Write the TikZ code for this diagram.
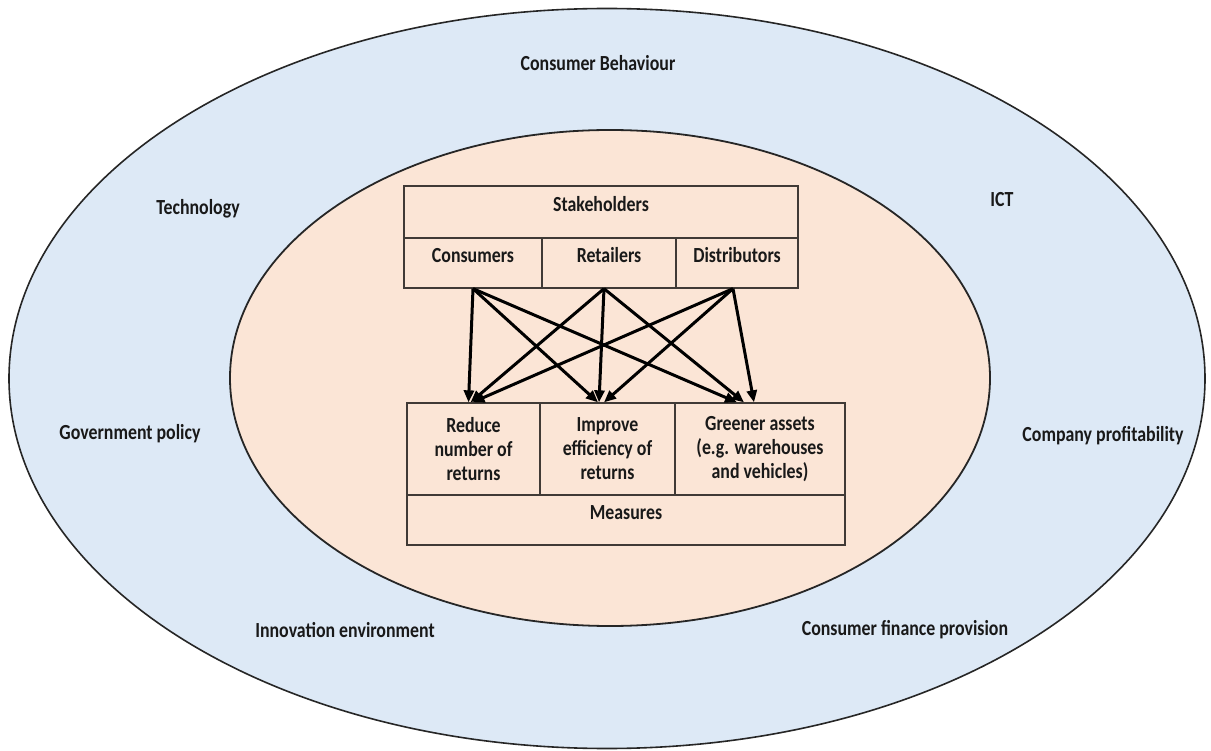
\documentclass[tikz,border=0pt]{standalone}
\usepackage{fontspec}
\setmainfont{Carlito}[FakeStretch=0.83]
\usetikzlibrary{arrows.meta}
\definecolor{outerblue}{RGB}{221,233,246}
\definecolor{innerpeach}{RGB}{251,229,214}
\definecolor{boxline}{RGB}{64,58,54}
\begin{document}
\begin{tikzpicture}[x=1pt,y=-1pt,
  every node/.style={font=\fontsize{21.5}{24}\selectfont\bfseries, text=black!90},
  cell/.style={draw=boxline, line width=1.3pt, fill=innerpeach, inner sep=0pt},
  raised/.style={text height=15pt, text depth=16pt},
  arr/.style={line width=3pt, draw=black, -{Triangle[length=12pt,width=10pt]}},
  ring/.style={draw=black!85}]
\useasboundingbox (0,0) rectangle (1211,751);
\fill[white] (0,0) rectangle (1211,751);
\draw[ring, line width=1.6pt, fill=outerblue] (607,378.5) ellipse [x radius=598, y radius=370];
\draw[ring, line width=1.8pt, fill=innerpeach] (610,378) ellipse [x radius=380, y radius=248];

% outer labels
\node (cb) at (598,63) {Consumer Behaviour};
\node (tech) at (198,209) {Technology};
\node (ict) at (1002,200) {ICT};
\node (gov) at (130,434) {Government policy};
\node (prof) at (1103,436) {Company profitability};
\node (innov) at (345,630) {Innovation environment};
\node (fin) at (905,630) {Consumer finance provision};

% stakeholders
\node[cell, raised, minimum width=394pt, minimum height=52pt] (stake) at (601,212) {Stakeholders};
\node[cell, raised, minimum width=138pt, minimum height=50pt] (cons) at (473,263) {Consumers};
\node[cell, raised, minimum width=134pt, minimum height=50pt] (ret) at (609,263) {Retailers};
\node[cell, raised, minimum width=122pt, minimum height=50pt] (dist) at (737,263) {Distributors};

% measures
\node[cell, align=center, minimum width=133pt, minimum height=92pt] (red) at (473.5,449) {Reduce\\number of\\returns};
\node[cell, align=center, minimum width=135pt, minimum height=92pt] (imp) at (607.5,449) {Improve\\efficiency of\\returns};
\node[cell, align=center, minimum width=170pt, minimum height=92pt] (green) at (760,449) {Greener assets\\(e.g. warehouses\\and vehicles)};
\node[cell, raised, minimum width=438pt, minimum height=50pt] (meas) at (626,520) {Measures};

% arrows
\draw[arr] (cons.south) -- ([xshift=-5pt]red.north);
\draw[arr] (cons.south) -- ([xshift=-9.5pt]imp.north);
\draw[arr] (cons.south) -- ([xshift=-23pt]green.north);
\draw[arr] ([xshift=-5pt]ret.south) -- ([xshift=-3pt]red.north);
\draw[arr] ([xshift=-5pt]ret.south) -- ([xshift=-8.5pt]imp.north);
\draw[arr] ([xshift=-5pt]ret.south) -- ([xshift=-16pt]green.north);
\draw[arr] ([xshift=-4pt]dist.south) -- ([xshift=-1pt]red.north);
\draw[arr] ([xshift=-4pt]dist.south) -- ([xshift=-3.5pt]imp.north);
\draw[arr] ([xshift=-4pt]dist.south) -- ([xshift=-6pt]green.north);
\end{tikzpicture}
\end{document}
